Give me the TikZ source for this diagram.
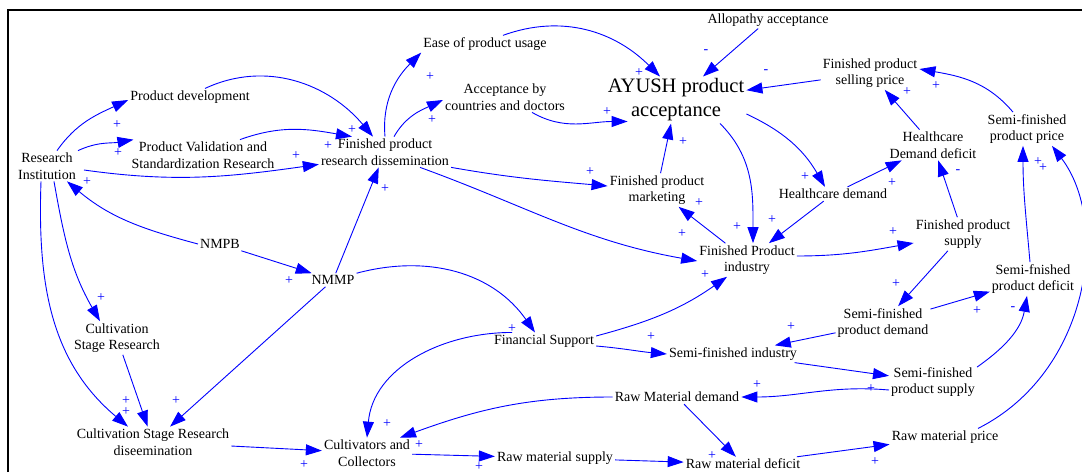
\documentclass[tikz,border=0pt]{standalone}
\usepackage{fontspec}
\setmainfont{Liberation Serif}
\usetikzlibrary{arrows.meta}
\begin{document}
\begin{tikzpicture}[x=1pt,y=1pt,
  v/.style={font=\fontsize{14}{16.5}\selectfont, align=center, inner sep=2pt, text=black},
  big/.style={font=\fontsize{20.5}{24}\selectfont, align=center, inner sep=2pt},
  lk/.style={blue, line width=0.9pt, -{Triangle[length=16pt,width=11pt]}},
  pl/.style={blue, font=\fontsize{14}{14}\selectfont, inner sep=0pt},
]
\useasboundingbox (0,0) rectangle (1082,472);
\draw[line width=1.6pt] (8,0) -- (8,462) -- (1082,462);

% variables
\node[v] (ri) at (47,306) {Research\\Institution};
\node[v] (pd) at (190,375) {Product development};
\node[v] (pv) at (203,317) {Product Validation and\\Standardization Research};
\node[v] (fprd) at (385,320) {Finished product\\research dissemination};
\node[v] (ease) at (485,428) {Ease of product usage};
\node[v] (acc) at (505,375) {Acceptance by\\countries and doctors};
\node[big] (ayush) at (676,372) {AYUSH product\\acceptance};
\node[v] (allo) at (768,452) {Allopathy acceptance};
\node[v] (fpsp) at (870,399) {Finished product\\selling price};
\node[v] (hdd) at (933,327) {Healthcare\\Demand deficit};
\node[v] (sfpp) at (1027,343) {Semi-finished\\product price};
\node[v] (hd) at (833,278) {Healthcare demand};
\node[v] (fpm) at (657,282) {Finished product\\marketing};
\node[v] (fpi) at (747,212) {Finished Product\\industry};
\node[v] (fps) at (963,238) {Finished product\\supply};
\node[v] (sfdef) at (1033,193) {Semi-fnished\\product deficit};
\node[v] (sfdem) at (883,149) {Semi-finished\\product demand};
\node[v] (sfi) at (733,118) {Semi-finished industry};
\node[v] (sfps) at (933,90) {Semi-finished\\product supply};
\node[v] (rmd) at (677,75) {Raw Material demand};
\node[v] (rmdef) at (743,8) {Raw material deficit};
\node[v] (rmp) at (945,35) {Raw material price};
\node[v] (rms) at (555,14) {Raw material supply};
\node[v] (cc) at (367,19) {Cultivators and\\Collectors};
\node[v] (fs) at (544,131) {Financial Support};
\node[v] (nmmp) at (333,192) {NMMP};
\node[v] (nmpb) at (220,228) {NMPB};
\node[v] (csr) at (117,134) {Cultivation\\Stage Research};
\node[v] (csrd) at (153,30) {Cultivation Stage Research\\diseemination};

% links
\draw[lk] ([xshift=10pt]ri.north) to[out=55,in=205] ([yshift=-3pt]pd.west);
\draw[lk] (ri.north east) to[out=25,in=190] ([xshift=4pt]pv.north west);
\draw[lk] ([xshift=6pt,yshift=-4pt]ri.east) to[out=-8,in=188] ([yshift=3pt]fprd.south west);
\draw[lk] ([xshift=37pt]pv.north) to[out=20,in=170] ([xshift=-33pt]fprd.north);
\draw[lk] ([xshift=15pt]pd.north) to[out=25,in=130] ([xshift=-12pt]fprd.north);
\draw[lk] (fprd.north) to[out=95,in=225] (ease.south west);
\draw[lk] ([xshift=9pt]fprd.north) to[out=60,in=205] ([yshift=-3pt]acc.west);
\draw[lk] ([xshift=18pt]ease.north) to[out=20,in=135] ([xshift=-16pt]ayush.north);
\draw[lk] ([xshift=27pt]acc.south) to[out=-30,in=180] ([xshift=22pt,yshift=2pt]ayush.south west);
\draw[lk] (allo) -- (ayush);
\draw[lk] (fpsp) -- (ayush);
\draw[lk] ([xshift=-14pt]sfpp.north) to[out=130,in=-10] ([yshift=4pt]fpsp.east);
\draw[lk] (hdd) -- (fpsp);
\draw[lk] (hd) -- (hdd);
\draw[lk] (fps) -- (hdd);
\draw[lk] ([yshift=-14pt]ayush.east) to[out=-25,in=120] ([xshift=-8pt]hd.north);
\draw[lk] ([xshift=44pt]ayush.south) to[out=-45,in=90] ([xshift=6pt]fpi.north);
\draw[lk] (hd) -- (fpi);
\draw[lk] (fpi) -- (fpm);
\draw[lk] (fpm) -- (ayush);
\draw[lk] (fprd.south east) to[out=-10,in=175] ([yshift=4pt]fpm.west);
\draw[lk] ([xshift=35pt]fprd.south) to[out=-20,in=170] ([yshift=-1pt]fpi.west);
\draw[lk] ([yshift=4pt]fpi.east) to[out=0,in=190] ([yshift=-9pt]fps.west);
\draw[lk] (fps) -- (sfdem);
\draw[lk] (sfdem) -- (sfdef);
\draw[lk] (sfdem) -- (sfi);
\draw[lk] (sfi) -- (sfps);
\draw[lk] ([yshift=-2pt]sfps.north east) to[out=35,in=-100] ([xshift=-6pt]sfdef.south);
\draw[lk] ([xshift=-3pt]sfdef.north) to[out=95,in=-90] ([xshift=-4pt]sfpp.south);
\draw[lk] ([xshift=33pt]rmp.north) .. controls (1090,100) and (1110,250) .. ([xshift=25pt]sfpp.south);
\draw[lk] ([yshift=-5pt]fs.east) to[out=-5,in=175] (sfi.west);
\draw[lk] ([yshift=5pt]fs.east) to[out=15,in=215] ([xshift=-20pt]fpi.south);
\draw[lk] (nmmp.north east) to[out=15,in=125] ([xshift=-9pt]fs.north);
\draw[lk] ([xshift=-32pt]fs.north) to[out=180,in=85] (cc.north);
\draw[lk] (nmpb) -- (nmmp);
\draw[lk] (nmpb.west) to[out=165,in=-40] ([xshift=20pt]ri.south);
\draw[lk] (nmmp) -- (fprd);
\draw[lk] (nmmp) -- (csrd);
\draw[lk] ([xshift=7pt]ri.south) to[out=-80,in=120] ([xshift=-17pt]csr.north);
\draw[lk] ([xshift=-6pt]ri.south) to[out=-92,in=140] ([xshift=-25pt]csrd.north);
\draw[lk] (csr) -- (csrd);
\draw[lk] (csrd) -- (cc);
\draw[lk] (cc) -- (rms);
\draw[lk] (rmd.west) to[out=180,in=20] ([xshift=33pt]cc.north);
\draw[lk] (rms) -- (rmdef);
\draw[lk] (rmd) -- (rmdef);
\draw[lk] (rmdef) -- (rmp);
\draw[lk] ([yshift=-8pt]sfps.west) to[out=175,in=0] (rmd.east);

% polarities
\node[pl] (p1) at (117,347) {+};
\node[pl] (p2) at (118,319) {+};
\node[pl] (p3) at (87,290) {+};
\node[pl] (p4) at (352,342) {+};
\node[pl] (p5) at (328,326) {+};
\node[pl] (p6) at (296,316) {+};
\node[pl] (p7) at (430,395) {+};
\node[pl] (p8) at (432,352) {+};
\node[pl] (p9) at (385,283) {+};
\node[pl] (p10) at (639,399) {+};
\node[pl] (p11) at (607,360) {+};
\node[pl] (p12) at (683,330) {+};
\node[pl] (p13) at (590,300) {+};
\node[pl] (p14) at (699,269) {+};
\node[pl] (p15) at (682,238) {+};
\node[pl] (p16) at (737,245) {+};
\node[pl] (p17) at (772,252) {+};
\node[pl] (p18) at (805,295) {+};
\node[pl] (p19) at (892,289) {+};
\node[pl] (p20) at (907,380) {+};
\node[pl] (p21) at (936,386) {+};
\node[pl] (p22) at (1038,310) {+};
\node[pl] (p23) at (1043,304) {+};
\node[pl] (p24) at (893,240) {+};
\node[pl] (p25) at (896,188) {+};
\node[pl] (p26) at (977,161) {+};
\node[pl] (p27) at (791,145) {+};
\node[pl] (p28) at (757,87) {+};
\node[pl] (p29) at (871,83) {+};
\node[pl] (p30) at (875,10) {+};
\node[pl] (p31) at (705,197) {+};
\node[pl] (p32) at (651,135) {+};
\node[pl] (p33) at (512,143) {+};
\node[pl] (p34) at (387,48) {+};
\node[pl] (p35) at (419,27) {+};
\node[pl] (p36) at (479,5) {+};
\node[pl] (p37) at (712,16) {+};
\node[pl] (p38) at (289,191) {+};
\node[pl] (p39) at (101,174) {+};
\node[pl] (p40) at (126,71) {+};
\node[pl] (p41) at (126,60) {+};
\node[pl] (p42) at (176,71) {+};
\node[pl] (p43) at (304,7) {+};
\node[pl] (m1) at (706,420) {-};
\node[pl] (m2) at (766,400) {-};
\node[pl] (m3) at (958,300) {-};
\node[pl] (m4) at (1013,163) {-};
\end{tikzpicture}
\end{document}
